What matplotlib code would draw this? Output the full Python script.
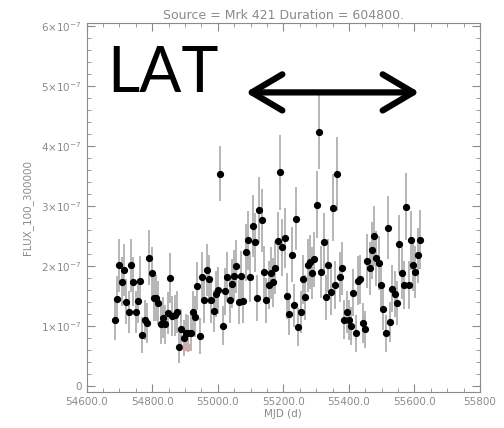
import matplotlib
matplotlib.use("Agg")
import matplotlib.pyplot as plt
import numpy as np

# weekly bins, flux in units of 1e-7
mjd_start = 54686
bin_days = 7
flux = [
    1.10, 1.46, 2.01, 1.74, 1.93, 1.41, 1.23, 2.01, 1.74, 1.23,
    1.42, 1.76, 0.85, 1.10, 1.05, 2.14, 1.89, 1.47, 1.47, 1.39,
    1.03, 1.14, 1.03, 1.22, 1.80, 1.17, 1.18, 1.23, 0.66, 0.96,
    0.81, 0.89, 0.88, 0.89, 1.23, 1.16, 1.67, 0.84, 1.82, 1.43,
    1.93, 1.78, 1.43, 1.25, 1.54, 1.60, 3.54, 1.01, 1.58, 1.82,
    1.43, 1.71, 1.84, 2.00, 1.40, 1.83, 1.42, 2.23, 2.43, 1.82,
    2.67, 2.40, 1.47, 2.94, 2.76, 1.90, 1.43, 1.68, 1.89, 1.73,
    1.97, 2.41, 3.56, 2.31, 2.47, 1.50, 1.21, 2.19, 1.35, 2.79,
    0.99, 1.23, 1.78, 1.48, 2.01, 2.07, 1.89, 2.11, 3.02, 4.23,
    1.90, 2.40, 1.48, 2.01, 1.57, 2.97, 1.69, 3.53, 1.82, 1.96,
    1.11, 1.23, 1.10, 1.00, 1.56, 0.88, 1.76, 1.78, 1.05, 0.95,
    2.08, 1.96, 2.26, 2.50, 2.13, 2.05, 1.68, 1.29, 0.88, 2.64,
    1.07, 1.62, 1.54, 1.39, 2.37, 1.89, 1.68, 2.99, 1.68, 2.43,
    2.02, 1.90, 2.18, 2.44,
]
flux_err = [
    0.33, 0.38, 0.44, 0.41, 0.43, 0.37, 0.35, 0.44, 0.41, 0.35,
    0.37, 0.41, 0.30, 0.33, 0.33, 0.46, 0.43, 0.38, 0.38, 0.37,
    0.32, 0.34, 0.32, 0.35, 0.42, 0.34, 0.34, 0.35, 0.28, 0.32,
    0.30, 0.31, 0.31, 0.31, 0.35, 0.34, 0.40, 0.30, 0.42, 0.37,
    0.43, 0.41, 0.37, 0.35, 0.38, 0.39, 0.45, 0.32, 0.39, 0.42,
    0.37, 0.41, 0.42, 0.44, 0.37, 0.42, 0.37, 0.47, 0.49, 0.42,
    0.52, 0.49, 0.38, 0.55, 0.53, 0.43, 0.37, 0.40, 0.43, 0.41,
    0.44, 0.49, 0.62, 0.48, 0.50, 0.38, 0.35, 0.46, 0.36, 0.53,
    0.32, 0.35, 0.41, 0.38, 0.44, 0.45, 0.43, 0.45, 0.56, 0.62,
    0.43, 0.49, 0.38, 0.44, 0.39, 0.56, 0.40, 0.62, 0.42, 0.44,
    0.33, 0.35, 0.33, 0.32, 0.39, 0.31, 0.41, 0.41, 0.33, 0.31,
    0.45, 0.44, 0.47, 0.50, 0.46, 0.45, 0.40, 0.35, 0.31, 0.52,
    0.33, 0.39, 0.38, 0.37, 0.48, 0.43, 0.40, 0.56, 0.40, 0.49,
    0.44, 0.43, 0.46, 0.49,
]
# small pink marker
red_mjd = [54904]
red_flux = [0.65]

yticks = [0, 1, 2, 3, 4, 5, 6]
ytick_labels = ["0"] + [r"%d$\times$10$^{-7}$" % v for v in yticks[1:]]
xticks = [54600, 54800, 55000, 55200, 55400, 55600, 55800]
xtick_labels = ["54600.0", "54800.0", "55000.0", "55200.0", "55400.0", "55600.0", "55800"]

gray = "#8a8a8a"
mjd = mjd_start + bin_days * np.arange(len(flux))
scale = 1e-7

fig = plt.figure(figsize=(5.04, 4.28), dpi=100)
ax = fig.add_axes([0.172, 0.0834, 0.7804, 0.8636])

ax.errorbar(mjd, np.array(flux) * scale, yerr=np.array(flux_err) * scale,
            fmt="o", color="black", ms=4.2, ecolor="#b0b0b0", elinewidth=1.3,
            capsize=0, zorder=3)
ax.plot(red_mjd, np.array(red_flux) * scale, marker="s", ls="none", ms=4,
        mfc="none", mec="#e6a3a0", zorder=4)

ax.set_xlim(54600, 55800)
ax.set_ylim(-0.1e-7, 6.05e-7)
ax.set_xticks(xticks)
ax.set_xticklabels(xtick_labels)
ax.set_xticks(np.arange(54600, 55801, 50), minor=True)
ax.set_yticks(np.array(yticks) * scale)
ax.set_yticklabels(ytick_labels)
ax.set_yticks(np.arange(0, 6.01, 0.2) * scale, minor=True)
ax.tick_params(which="both", direction="in", top=True, right=True,
               colors=gray, labelsize=7.5, labelcolor=gray)
ax.tick_params(which="major", length=6)
ax.tick_params(which="minor", length=3)
for s in ax.spines.values():
    s.set_color(gray)
    s.set_linewidth(0.8)

ax.set_xlabel("MJD (d)", color=gray, fontsize=7.5, labelpad=1)
ax.set_ylabel("FLUX_100_300000", color=gray, fontsize=7.5, labelpad=6)
ax.set_title("Source = Mrk 421 Duration = 604800.", color=gray, fontsize=9, pad=3)

ax.text(0.052, 0.86, "LAT", transform=ax.transAxes, fontsize=45,
        family="Lato", color="black", va="center", ha="left")
ax.annotate("", xy=(55085, 4.89e-7), xytext=(55615, 4.89e-7),
            arrowprops=dict(arrowstyle="<->,head_length=1.1,head_width=0.65",
                            lw=4.5, color="black", mutation_scale=20,
                            shrinkA=0, shrinkB=0, capstyle="round",
                            joinstyle="round"))

fig.savefig("out.png", dpi=100)
